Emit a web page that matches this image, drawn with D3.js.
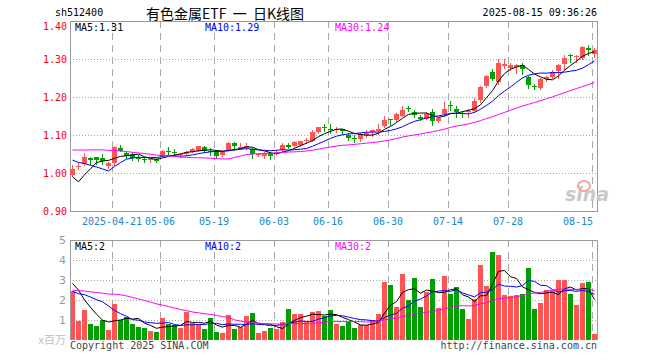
<!DOCTYPE html>
<html><head><meta charset="utf-8">
<script src="https://cdn.jsdelivr.net/npm/d3@7/dist/d3.min.js"></script>
<style>body{margin:0;background:#fff}svg{display:block}</style>
</head><body><svg id="c" width="660" height="360"></svg>
<script>
// ---------- data ----------
const dates = ["04-10","04-11","04-14","04-15","04-16","04-17","04-18","04-21","04-22","04-23","04-24","04-25","04-28","04-29","04-30",
"05-06","05-07","05-08","05-09","05-12","05-13","05-14","05-15","05-16","05-19","05-20","05-21","05-22","05-23","05-26","05-27","05-28","05-29","05-30",
"06-03","06-04","06-05","06-06","06-09","06-10","06-11","06-12","06-13","06-16","06-17","06-18","06-19","06-20","06-23","06-24","06-25","06-26","06-27",
"06-30","07-01","07-02","07-03","07-04","07-07","07-08","07-09","07-10","07-11","07-14","07-15","07-16","07-17","07-18","07-21","07-22","07-23","07-24","07-25",
"07-28","07-29","07-30","07-31","08-01","08-04","08-05","08-06","08-07","08-08","08-11","08-12","08-13","08-14","08-15"];
const open  = [0.995,1.016,1.022,1.040,1.041,1.039,1.020,1.025,1.067,1.052,1.049,1.040,1.036,1.033,1.036,1.045,1.059,1.055,1.046,1.050,1.056,1.059,1.069,1.059,1.059,1.047,1.059,1.078,1.065,1.066,
1.062,1.046,1.044,1.052,1.051,1.060,1.074,1.070,1.072,1.085,1.085,1.107,1.121,1.116,1.112,1.115,1.101,1.091,1.088,1.099,1.107,1.111,1.125,1.141,1.140,1.152,1.171,1.161,1.148,1.144,
1.160,1.138,1.155,1.179,1.168,1.158,1.160,1.163,1.193,1.228,1.267,1.238,1.282,1.276,1.277,1.284,1.253,1.229,1.223,1.246,1.253,1.268,1.285,1.311,1.306,1.302,1.328,1.313];
const high  = [1.021,1.026,1.052,1.043,1.042,1.049,1.030,1.070,1.073,1.056,1.056,1.048,1.043,1.038,1.040,1.060,1.068,1.064,1.052,1.058,1.066,1.072,1.071,1.065,1.060,1.058,1.082,1.081,1.078,1.080,
1.067,1.052,1.054,1.055,1.060,1.078,1.078,1.085,1.085,1.092,1.114,1.122,1.128,1.128,1.122,1.117,1.106,1.099,1.104,1.112,1.114,1.128,1.150,1.142,1.158,1.176,1.176,1.165,1.153,1.160,
1.168,1.148,1.188,1.189,1.176,1.163,1.168,1.198,1.229,1.257,1.273,1.300,1.300,1.290,1.288,1.290,1.256,1.233,1.249,1.256,1.271,1.287,1.310,1.312,1.310,1.333,1.337,1.328];
const low   = [0.992,1.010,1.020,1.024,1.024,1.024,1.013,1.022,1.057,1.039,1.033,1.032,1.028,1.030,1.028,1.044,1.050,1.045,1.043,1.047,1.054,1.058,1.055,1.047,1.040,1.045,1.058,1.060,1.063,1.062,
1.039,1.044,1.039,1.037,1.049,1.058,1.065,1.068,1.070,1.080,1.083,1.105,1.110,1.104,1.107,1.103,1.086,1.081,1.085,1.094,1.098,1.103,1.122,1.126,1.138,1.150,1.163,1.148,1.140,1.142,
1.125,1.135,1.153,1.167,1.148,1.148,1.148,1.160,1.187,1.225,1.245,1.235,1.276,1.270,1.262,1.260,1.223,1.221,1.222,1.243,1.251,1.250,1.273,1.293,1.291,1.300,1.310,1.305];
const close = [1.010,1.018,1.041,1.034,1.034,1.030,1.027,1.068,1.059,1.044,1.039,1.038,1.034,1.036,1.032,1.058,1.058,1.053,1.049,1.055,1.064,1.071,1.059,1.057,1.045,1.056,1.080,1.070,1.069,1.070,
1.050,1.049,1.052,1.045,1.056,1.073,1.068,1.081,1.083,1.087,1.108,1.120,1.119,1.114,1.115,1.110,1.092,1.089,1.102,1.104,1.112,1.117,1.140,1.139,1.156,1.167,1.169,1.154,1.143,1.156,
1.135,1.145,1.168,1.177,1.161,1.156,1.163,1.190,1.227,1.255,1.249,1.289,1.288,1.285,1.283,1.274,1.233,1.227,1.247,1.252,1.267,1.284,1.302,1.310,1.308,1.331,1.323,1.324];
// volume, millions
const volume = [2.47,0.97,1.5,0.8,0.7,1.0,0.5,1.8,1.0,1.13,0.8,0.67,0.6,0.45,0.4,1.1,0.8,0.75,0.6,1.38,0.87,0.8,0.55,1.1,0.42,0.35,1.23,0.55,0.63,1.2,
1.35,0.35,0.47,0.6,0.55,0.9,1.55,1.3,1.3,0.9,1.4,1.45,1.2,1.5,0.8,0.7,0.9,0.6,0.75,0.75,1.0,1.3,2.9,2.75,1.65,3.3,2.0,3.1,1.65,2.42,
3.05,1.6,3.2,2.3,2.65,1.55,1.05,2.05,3.75,2.7,4.4,4.27,2.25,2.2,2.25,2.3,3.6,1.55,1.85,2.5,2.45,3.0,3.0,2.3,1.75,2.85,2.9,0.3];
// sessions before the first visible bar (feed the moving averages at the left edge)
const prevClose = [1.03,1.03,1.03,1.03,1.03,1.07,1.08,1.09,1.09,1.10,1.09,1.08,1.09,1.10,1.09,1.09,1.10,1.09,1.08,1.09,1.08,1.07,1.08,1.08,1.08,1.083,0.950,0.955,0.952];
const prevVolume = [1.9,1.9,1.9,1.9,1.9,1.9,1.9,1.9,2.95,2.95,2.95,2.95,2.95,2.95,2.95,2.95,2.95,2.95,2.95,2.95,2.0,2.0,2.0,2.0,2.05,2.62,4.0,2.63,2.43];

const priceTicks = [0.90,1.00,1.10,1.20,1.30,1.40];
const volTicks = [1,2,3,4,5];
const tickDates = ["04-21","05-06","05-19","06-03","06-16","06-30","07-14","07-28","08-15"];
const tickLabels = ["2025-04-21","05-06","05-19","06-03","06-16","06-30","07-14","07-28","08-15"];
const priceMaLabels = ["MA5:1.31","MA10:1.29","MA30:1.24"];
const volMaLabels = ["MA5:2","MA10:2","MA30:2"];
const maPeriods = [5,10,30];
const maColors = ["#000000","#0000ff","#ff00ff"];

// ---------- drawing ----------
const svg = d3.select("#c");
const MONO = "'DejaVu Sans Mono', 'Liberation Mono', monospace";
const RED = "#ff5454", GREEN = "#00a000", GRID = "#a8a8a8", FRAME = "#9a9a9a";
const L = 70, R = 597;
const x = d3.scaleLinear().domain([0, dates.length]).range([L, L + 6 * dates.length]);
const y = d3.scaleLinear().domain([0.9, 1.4]).range([211, 21]);
const yv = d3.scaleLinear().domain([0, 5]).range([340, 240]);
const idx = tickDates.map(d => dates.indexOf(d));

function ma(series, prev, n) {
  const all = prev.concat(series);
  return series.map((_, i) => d3.mean(all.slice(i + prev.length - n + 1, i + prev.length + 1)));
}
const up = close.map((c, i) => c >= open[i]);

// header
svg.append("text").attr("x", 55).attr("y", 16).attr("font-family", MONO).attr("font-size", 10)
  .attr("fill", "#000").text("sh512400");
svg.append("text").attr("x", 225).attr("y", 19).attr("text-anchor", "middle").style("white-space", "pre")
  .attr("font-family", "'Noto Sans CJK SC', sans-serif").attr("font-size", 14).attr("fill", "#000")
  .text("有色金属ETF  一  日K线图");
svg.append("text").attr("x", R).attr("y", 16).attr("text-anchor", "end").attr("font-family", MONO)
  .attr("font-size", 10).attr("fill", "#000").text("2025-08-15 09:36:26");

// ---- price panel ----
const gp = svg.append("g");
gp.selectAll("line.hg").data(priceTicks.filter(t => t > 0.95 && t < 1.35)).join("line")
  .attr("x1", L).attr("x2", R).attr("y1", d => Math.round(y(d)) + 0.5).attr("y2", d => Math.round(y(d)) + 0.5)
  .attr("stroke", GRID).attr("stroke-dasharray", "1,2");
gp.selectAll("line.vg").data(idx).join("line")
  .attr("x1", d => x(d) + 0.5).attr("x2", d => x(d) + 0.5).attr("y1", y(1.4)).attr("y2", y(0.9))
  .attr("stroke", GRID).attr("stroke-dasharray", "7,5");
gp.append("rect").attr("x", L + 0.5).attr("y", Math.round(y(1.4)) + 0.5).attr("width", R - L)
  .attr("height", Math.round(y(0.9)) - Math.round(y(1.4))).attr("fill", "none").attr("stroke", FRAME);
gp.selectAll("text.yl").data(priceTicks).join("text")
  .attr("x", 67).attr("y", d => d >= 1.395 ? y(d) + 9 : y(d) + 4).attr("text-anchor", "end").attr("font-family", MONO)
  .attr("font-size", 10).attr("fill", "#ff0000").text(d => d.toFixed(2));

// sina watermark
gp.append("text").attr("x", 565).attr("y", 201).attr("font-family", "'DejaVu Sans', sans-serif")
  .attr("font-size", 19).attr("font-weight", "bold").attr("font-style", "italic").attr("fill", "#c9c9c9").text("sina");
gp.append("ellipse").attr("cx", 584).attr("cy", 186).attr("rx", 6).attr("ry", 5)
  .attr("fill", "none").attr("stroke", "#f3a4a4").attr("stroke-width", 2);

// candles
const cg = gp.append("g");
cg.selectAll("line.wick").data(close).join("line")
  .attr("x1", (d, i) => x(i) + 2.5).attr("x2", (d, i) => x(i) + 2.5)
  .attr("y1", (d, i) => Math.round(y(high[i]))).attr("y2", (d, i) => Math.round(y(low[i])) + 1)
  .attr("stroke", (d, i) => up[i] ? RED : GREEN);
cg.selectAll("rect.body").data(close).join("rect")
  .attr("x", (d, i) => x(i)).attr("width", 5)
  .attr("y", (d, i) => Math.round(y(Math.max(open[i], d))))
  .attr("height", (d, i) => Math.max(1, Math.round(Math.abs(y(open[i]) - y(d)))))
  .attr("fill", (d, i) => up[i] ? RED : GREEN);

// price MAs
maPeriods.forEach((n, k) => {
  const m = ma(close, prevClose, n);
  gp.append("path").datum(m).attr("fill", "none").attr("stroke", maColors[k]).attr("stroke-width", 1)
    .attr("d", d3.line().x((d, i) => x(i) + 2.5).y(d => y(d)));
});
const maX = [75, 205, 335];
gp.selectAll("text.ma").data(priceMaLabels).join("text")
  .attr("x", (d, i) => maX[i]).attr("y", 31).attr("font-family", MONO).attr("font-size", 10)
  .attr("fill", (d, i) => maColors[i]).text(d => d);

// date labels
svg.selectAll("text.dl").data(idx).join("text")
  .attr("x", (d, i) => i === idx.length - 1 ? x(d) + 1 : x(d))
  .attr("y", 225).attr("text-anchor", (d, i) => i === idx.length - 1 ? "end" : "middle")
  .attr("font-family", MONO).attr("font-size", 10).attr("fill", "#1a88d0")
  .text((d, i) => tickLabels[i]);

// ---- volume panel ----
const gv = svg.append("g");
gv.selectAll("line.hg").data(volTicks.filter(t => t < 5)).join("line")
  .attr("x1", L).attr("x2", R).attr("y1", d => yv(d) + 0.5).attr("y2", d => yv(d) + 0.5)
  .attr("stroke", GRID).attr("stroke-dasharray", "1,2");
gv.selectAll("line.vg").data(idx).join("line")
  .attr("x1", d => x(d) + 0.5).attr("x2", d => x(d) + 0.5).attr("y1", yv(5)).attr("y2", yv(0))
  .attr("stroke", GRID).attr("stroke-dasharray", "7,5");
gv.selectAll("rect.vb").data(volume).join("rect")
  .attr("x", (d, i) => x(i)).attr("width", 5)
  .attr("y", d => Math.round(yv(d))).attr("height", d => yv(0) - Math.round(yv(d)))
  .attr("fill", (d, i) => up[i] ? RED : GREEN);
maPeriods.forEach((n, k) => {
  const m = ma(volume, prevVolume, n);
  gv.append("path").datum(m).attr("fill", "none").attr("stroke", maColors[k]).attr("stroke-width", 1)
    .attr("d", d3.line().x((d, i) => x(i) + 2.5).y(d => yv(d)));
});
gv.append("path").attr("d", `M${L + 0.5},${yv(5) + 0.5}H${R + 0.5}V${yv(0)}M${L + 0.5},${yv(5)}V${yv(0)}`)
  .attr("fill", "none").attr("stroke", FRAME);
gv.selectAll("text.yl").data(volTicks).join("text")
  .attr("x", 66).attr("y", d => yv(d) + 4).attr("text-anchor", "end")
  .attr("font-family", "'DejaVu Sans', sans-serif").attr("font-size", 11).attr("fill", "#9a9a9a").text(d => d);
gv.append("text").attr("x", 66).attr("y", 344).attr("text-anchor", "end")
  .attr("font-family", "'Noto Sans CJK SC', sans-serif").attr("font-size", 11).attr("fill", "#c0c0c0").text("x百万");
gv.selectAll("text.ma").data(volMaLabels).join("text")
  .attr("x", (d, i) => maX[i]).attr("y", 250).attr("font-family", MONO).attr("font-size", 10)
  .attr("fill", (d, i) => maColors[i]).text(d => d);

// footer
svg.append("text").attr("x", 70).attr("y", 349).attr("font-family", MONO).attr("font-size", 10)
  .attr("fill", "#444").text("Copyright 2025 SINA.COM");
svg.append("text").attr("x", R).attr("y", 349).attr("text-anchor", "end").attr("font-family", MONO)
  .attr("font-size", 10).attr("fill", "#444").text("http://finance.sina.com.cn");
</script></body></html>
